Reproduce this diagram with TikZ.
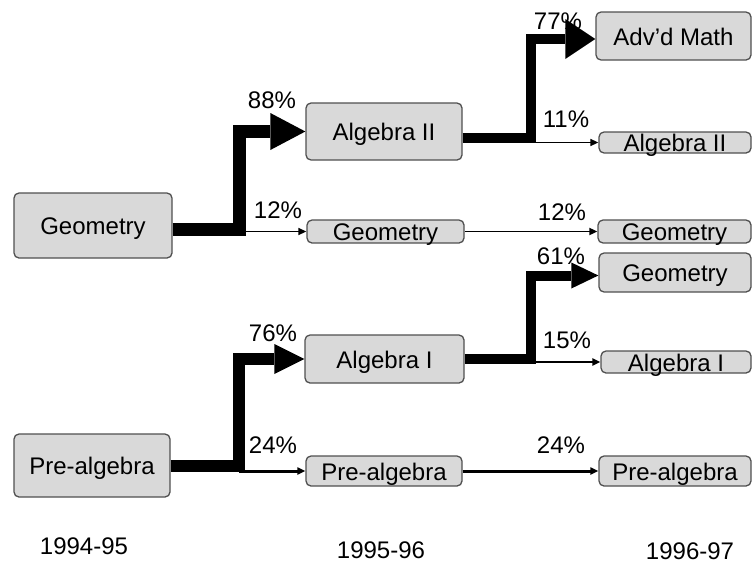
\documentclass[tikz,border=0pt]{standalone}
\usepackage{fontspec}
\setmainfont{Liberation Sans}
\usepackage{xcolor}
\usetikzlibrary{arrows.meta}
\definecolor{boxfill}{RGB}{217,217,217}
\definecolor{boxline}{RGB}{80,80,80}
\tikzset{
  course/.style={draw=boxline, fill=boxfill, line width=1.3pt, rounded corners=5pt,
    inner sep=0pt, text height=18pt, text depth=0pt, font=\fontsize{24pt}{28pt}\selectfont},
  pct/.style={inner sep=0pt, font=\fontsize{24pt}{28pt}\selectfont},
  smallflow/.style={-{Triangle[length=8pt,width=7pt]}}
}

\begin{document}
\begin{tikzpicture}[x=1pt,y=-1pt]
  \useasboundingbox (0,0) rectangle (752,568);

  \node[course, minimum width=158pt, minimum height=65pt] (geo94) at (93,225.5) {Geometry};
  \node[course, minimum width=156pt, minimum height=63pt] (pre94) at (92,465.5) {Pre-algebra};

  \node[course, minimum width=156pt, minimum height=57pt] (algii95) at (384,131.5) {Algebra II};
  \node[course, minimum width=157pt, minimum height=23pt] (geo95) at (385.5,231.5) {Geometry};
  \node[course, minimum width=159pt, minimum height=48pt] (algi95) at (384.5,359) {Algebra I};
  \node[course, minimum width=156pt, minimum height=30pt] (pre95) at (384,471) {Pre-algebra};

  \node[course, minimum width=155pt, minimum height=48pt] (adv96) at (673.5,36) {Adv’d Math};
  \node[course, minimum width=152pt, minimum height=21pt] (algii96) at (675,142.5) {Algebra II};
  \node[course, minimum width=153pt, minimum height=23pt] (geo96a) at (674.5,231.5) {Geometry};
  \node[course, minimum width=152pt, minimum height=39pt] (geo96b) at (675,272.5) {Geometry};
  \node[course, minimum width=150pt, minimum height=22pt] (algi96) at (676,362) {Algebra I};
  \node[course, minimum width=152pt, minimum height=30pt] (pre96) at (675,471) {Pre-algebra};

  \draw[line width=13pt, -{Triangle[length=35pt,width=37pt,line width=0pt]}]
    ([yshift=-4pt]geo94.east) -- ++(67,0) coordinate (jgeo) |- (algii95.west);
  \draw[smallflow, line width=1.5pt] (jgeo |- geo95.west) -- (geo95.west);

  \draw[line width=10pt, -{Triangle[length=30pt,width=40pt,line width=0pt]}]
    ([yshift=-6.5pt]algii95.east) -- ++(68,0) coordinate (jalgii) |- ([yshift=-3pt]adv96.west);
  \draw[smallflow, line width=1.5pt] (jalgii |- algii96.west) -- (algii96.west);

  \draw[smallflow, line width=1.8pt] (geo95.east) -- (geo96a.west);

  \draw[line width=10pt, -{Triangle[length=27pt,width=26pt,line width=0pt]}]
    (algi95.east) -- ++(66,0) coordinate (jalgi) |- ([yshift=-3pt]geo96b.west);
  \draw[smallflow, line width=2pt] (jalgi |- algi96.west) -- (algi96.west);

  \draw[line width=12pt, -{Triangle[length=30pt,width=30pt,line width=0pt]}]
    (pre94.east) -- ++(68,0) coordinate (jpre) |- (algi95.west);
  \draw[smallflow, line width=3pt] (jpre |- pre95.west) -- (pre95.west);

  \draw[smallflow, line width=3pt] (pre95.east) -- (pre96.west);

  \node[pct] (p88) at (272,100) {88\%};
  \node[pct] (p12a) at (278,210) {12\%};
  \node[pct] (p77) at (558,21) {77\%};
  \node[pct] (p11) at (566,119) {11\%};
  \node[pct] (p12b) at (562,212) {12\%};
  \node[pct] (p61) at (561,256) {61\%};
  \node[pct] (p76) at (273,333) {76\%};
  \node[pct] (p15) at (567,340) {15\%};
  \node[pct] (p24a) at (273,445) {24\%};
  \node[pct] (p24b) at (561,445) {24\%};

  \node[pct] (y94) at (84,546) {1994-95};
  \node[pct] (y95) at (381,550) {1995-96};
  \node[pct] (y96) at (690,551) {1996-97};
\end{tikzpicture}
\end{document}
